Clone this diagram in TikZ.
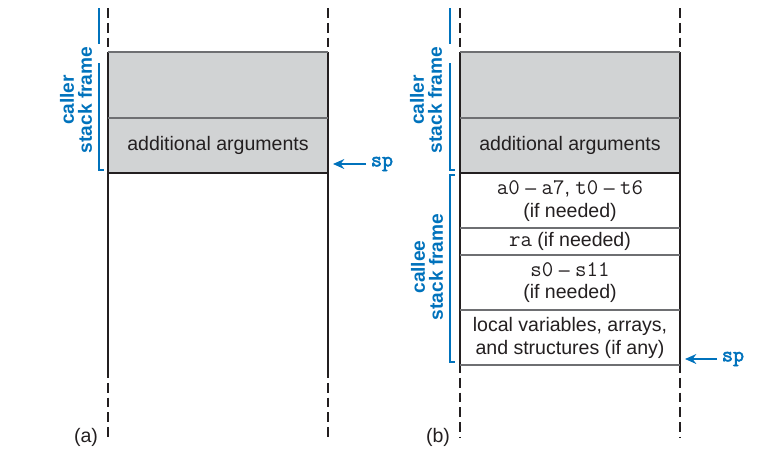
\documentclass[tikz,border=0pt]{standalone}
\usepackage{fontspec}
\setmainfont{Liberation Sans}
\setsansfont{Liberation Sans}
\setmonofont{Latin Modern Mono}[Scale=1.14]
\newfontfamily\spfont{Latin Modern Mono}[Scale=1.14, FakeBold=2.5]
\usepackage{tikz}
\usetikzlibrary{arrows.meta}
\pgfdeclarelayer{edgelayer}
\pgfdeclarelayer{nodelayer}
\pgfsetlayers{edgelayer,nodelayer,main}
\definecolor{ink}{RGB}{35,31,32}
\definecolor{rule}{RGB}{110,111,114}
\definecolor{boxgray}{RGB}{209,211,212}
\definecolor{pblue}{RGB}{0,114,188}
\tikzstyle{none} = []
\tikzstyle{cell} = [text=ink, align=center, font=\fontsize{13.9}{16}\selectfont]
\tikzstyle{frame label} = [text=pblue, align=center, rotate=90, font=\fontsize{13.6}{12.8}\selectfont\bfseries]
\tikzstyle{sp label} = [text=pblue, font=\fontsize{13.4}{14}\selectfont\spfont]
\tikzstyle{panel label} = [text=ink, font=\fontsize{13.9}{16}\selectfont]
\tikzstyle{wall} = [draw=ink, line width=0.8pt]
\tikzstyle{wall dashed} = [draw=ink, line width=0.8pt, dash pattern=on 7pt off 3.5pt]
\tikzstyle{divider} = [draw=rule, line width=1pt]
\tikzstyle{brace} = [draw=pblue, line width=1pt]
\tikzstyle{sp arrow} = [draw=pblue, line width=1.3pt, -{Stealth[length=8pt,width=7pt]}]
\newcommand{\regs}[1]{\texttt{#1}}

\begin{document}
\begin{tikzpicture}[scale=0.5]
	\useasboundingbox (0, 0) rectangle (38.8, -22.85);
	\begin{pgfonlayer}{nodelayer}
		% (a)
		\node [style=cell] (0) at (10.9, -7.275) {additional arguments};
		\node [style=frame label] (1) at (3.8, -5) {caller\\stack frame};
		\node [style=sp label, anchor=west] (2) at (18.3, -8.2) {sp};
		\node [style=panel label] (3) at (4.3, -21.85) {(a)};
		% (b)
		\node [style=cell] (4) at (28.5, -7.275) {additional arguments};
		\node [style=cell] (5) at (28.5, -10.05) {\regs{a0} -- \regs{a7}, \regs{t0} -- \regs{t6}\\(if needed)};
		\node [style=cell] (6) at (28.5, -12.075) {\regs{ra} (if needed)};
		\node [style=cell] (7) at (28.5, -14.125) {\regs{s0} -- \regs{s11}\\(if needed)};
		\node [style=cell] (8) at (28.5, -16.9) {local variables, arrays,\\and structures (if any)};
		\node [style=frame label] (9) at (21.3, -5) {caller\\stack frame};
		\node [style=frame label] (10) at (21.35, -13.35) {callee\\stack frame};
		\node [style=sp label, anchor=west] (11) at (35.85, -17.95) {sp};
		\node [style=panel label] (12) at (21.9, -21.85) {(b)};
		% free ends
		\coordinate (13) at (16.65, -8.2);
		\coordinate (14) at (34.25, -17.95);
	\end{pgfonlayer}
	\begin{pgfonlayer}{edgelayer}
		% (a) memory
		\fill [boxgray] (5.4, -2.6) rectangle (16.4, -8.65);
		\draw [style=wall dashed] (5.4, -0.4) to (5.4, -2.6);
		\draw [style=wall dashed] (16.4, -0.4) to (16.4, -2.6);
		\draw [style=wall] (5.4, -2.6) to (5.4, -18.65);
		\draw [style=wall] (16.4, -2.6) to (16.4, -18.65);
		\draw [style=wall dashed, dash phase=3.5pt] (5.4, -18.65) to (5.4, -21.85);
		\draw [style=wall dashed, dash phase=3.5pt] (16.4, -18.65) to (16.4, -21.85);
		\draw [style=divider] (5.4, -2.6) to (16.4, -2.6);
		\draw [style=divider] (5.4, -5.9) to (16.4, -5.9);
		\draw [style=wall] (5.4, -8.65) to (16.4, -8.65);
		\draw [style=brace, dash pattern=on 0.9cm off 0.55cm] (4.95, -0.4) to (4.95, -2.75);
		\draw [style=brace] (4.95, -3.15) to (4.95, -8.5) to (5.2, -8.5);
		\draw [style=sp arrow] (2.west) to (13);
		% (b) memory
		\fill [boxgray] (23, -2.6) rectangle (34, -8.65);
		\draw [style=wall dashed] (23, -0.4) to (23, -2.6);
		\draw [style=wall dashed] (34, -0.4) to (34, -2.6);
		\draw [style=wall] (23, -2.6) to (23, -18.4);
		\draw [style=wall] (34, -2.6) to (34, -18.4);
		\draw [style=wall dashed, dash phase=3.5pt] (23, -18.4) to (23, -21.85);
		\draw [style=wall dashed, dash phase=3.5pt] (34, -18.4) to (34, -21.85);
		\draw [style=divider] (23, -2.6) to (34, -2.6);
		\draw [style=divider] (23, -5.9) to (34, -5.9);
		\draw [style=wall] (23, -8.65) to (34, -8.65);
		\draw [style=divider] (23, -11.4) to (34, -11.4);
		\draw [style=divider] (23, -12.75) to (34, -12.75);
		\draw [style=divider] (23, -15.5) to (34, -15.5);
		\draw [style=divider] (23, -18.25) to (34, -18.25);
		\draw [style=brace, dash pattern=on 0.9cm off 0.55cm] (22.5, -0.4) to (22.5, -2.75);
		\draw [style=brace] (22.5, -3.15) to (22.5, -8.5) to (22.75, -8.5);
		\draw [style=brace] (22.75, -8.75) to (22.5, -8.75) to (22.5, -18.1) to (22.75, -18.1);
		\draw [style=sp arrow] (11.west) to (14);
	\end{pgfonlayer}
\end{tikzpicture}
\end{document}
